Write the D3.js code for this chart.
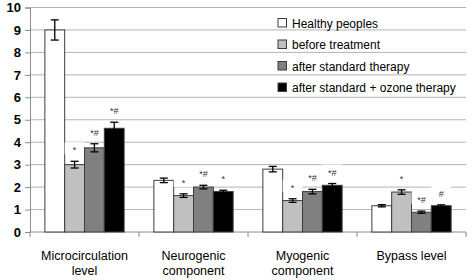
<!DOCTYPE html>
<html>
<head>
<meta charset="utf-8">
<script src="https://cdn.jsdelivr.net/npm/d3@7"></script>
<style>
  body { margin: 0; background: #fff; }
  text { font-family: "Liberation Sans", Arial, sans-serif; }
</style>
</head>
<body>
<svg id="chart"></svg>
<script>
// data
const categories = [["Microcirculation", "level"], ["Neurogenic", "component"], ["Myogenic", "component"], ["Bypass level"]];
const seriesNames = ["Healthy peoples", "before treatment", "after standard therapy", "after standard + ozone therapy"];
const seriesColors = ["#ffffff", "#c0c0c0", "#808080", "#000000"];
const healthy = [9.0, 2.3, 2.8, 1.17];
const before = [3.0, 1.62, 1.4, 1.78];
const standard = [3.75, 2.0, 1.8, 0.88];
const ozone = [4.62, 1.8, 2.08, 1.17];
const healthyErr = [0.45, 0.1, 0.12, 0.05];
const beforeErr = [0.15, 0.08, 0.08, 0.1];
const standardErr = [0.18, 0.08, 0.1, 0.05];
const ozoneErr = [0.27, 0.06, 0.08, 0.04];
const healthyMark = ["", "", "", ""];
const beforeMark = ["*", "*", "*", "*"];
const standardMark = ["*#", "*#", "*#", "*#"];
const ozoneMark = ["*#", "*", "*#", "#"];
const yTicks = [0, 1, 2, 3, 4, 5, 6, 7, 8, 9, 10];

const values = [healthy, before, standard, ozone];
const errors = [healthyErr, beforeErr, standardErr, ozoneErr];
const marks = [healthyMark, beforeMark, standardMark, ozoneMark];

const width = 472, height = 280;
const margin = { top: 7.5, right: 6, bottom: 48, left: 30 };

const svg = d3.select("#chart").attr("width", width).attr("height", height);

const x0 = d3.scaleBand()
  .domain(d3.range(categories.length))
  .range([margin.left, width - margin.right])
  .paddingInner(0).paddingOuter(0);
const x1 = d3.scaleBand()
  .domain(d3.range(seriesNames.length))
  .range([0, x0.bandwidth()])
  .paddingOuter(0.75).paddingInner(0);
const y = d3.scaleLinear().domain([0, 10]).range([height - margin.bottom, margin.top]);

// gridlines
svg.append("g").selectAll("line").data(yTicks.slice(1)).join("line")
  .attr("x1", margin.left).attr("x2", width - margin.right)
  .attr("y1", d => y(d)).attr("y2", d => y(d))
  .attr("stroke", "#b4b4b4").attr("stroke-width", 1);

// y axis
const yAxis = svg.append("g").attr("transform", `translate(${margin.left},0)`)
  .call(d3.axisLeft(y).tickValues(yTicks).tickSize(5).tickPadding(4));
yAxis.select(".domain").attr("stroke", "#8c8c8c");
yAxis.selectAll(".tick line").attr("stroke", "#8c8c8c");
yAxis.selectAll(".tick text").attr("font-size", 13).attr("font-weight", "bold").attr("fill", "#000");

// x axis with ticks at category boundaries
const bounds = d3.range(categories.length + 1).map(i => margin.left + i * x0.step());
svg.append("line").attr("x1", margin.left).attr("x2", width - margin.right)
  .attr("y1", y(0)).attr("y2", y(0)).attr("stroke", "#8c8c8c");
svg.append("g").selectAll("line").data(bounds).join("line")
  .attr("x1", d => d).attr("x2", d => d)
  .attr("y1", y(0)).attr("y2", y(0) + 5).attr("stroke", "#8c8c8c");

// category labels
const catLabels = svg.append("g").selectAll("text").data(categories).join("text")
  .attr("text-anchor", "middle")
  .attr("font-size", 12.5)
  .attr("x", (d, i) => x0(i) + x0.bandwidth() / 2)
  .attr("y", 260);
catLabels.selectAll("tspan").data(d => d).join("tspan")
  .attr("x", function () { return this.parentNode.getAttribute("x"); })
  .attr("dy", (d, i) => i === 0 ? 0 : 14.5)
  .text(d => d);

// bars
const groups = svg.append("g").selectAll("g").data(categories).join("g")
  .attr("transform", (d, i) => `translate(${x0(i)},0)`);

const cells = groups.selectAll("g").data((d, ci) => values.map((s, si) => ({
  si, v: s[ci], e: errors[si][ci], m: marks[si][ci]
}))).join("g");

// label boxes (cover gridlines behind significance marks)
cells.filter(d => d.m !== "").append("rect")
  .attr("x", d => x1(d.si))
  .attr("y", d => y(d.v + d.e) - 19)
  .attr("width", x1.bandwidth())
  .attr("height", 12)
  .attr("fill", "#fff");

cells.append("rect")
  .attr("x", d => x1(d.si))
  .attr("y", d => y(d.v))
  .attr("width", x1.bandwidth())
  .attr("height", d => y(0) - y(d.v))
  .attr("fill", d => seriesColors[d.si])
  .attr("stroke", "#3c3c3c")
  .attr("stroke-width", 1);

// error bars
const cap = 4;
cells.append("line")
  .attr("x1", d => x1(d.si) + x1.bandwidth() / 2).attr("x2", d => x1(d.si) + x1.bandwidth() / 2)
  .attr("y1", d => y(d.v - d.e)).attr("y2", d => y(d.v + d.e))
  .attr("stroke", "#000").attr("stroke-width", 1.3);
cells.selectAll("line.cap").data(d => [[d, d.v - d.e], [d, d.v + d.e]]).join("line")
  .attr("class", "cap")
  .attr("x1", d => x1(d[0].si) + x1.bandwidth() / 2 - cap).attr("x2", d => x1(d[0].si) + x1.bandwidth() / 2 + cap)
  .attr("y1", d => y(d[1])).attr("y2", d => y(d[1]))
  .attr("stroke", "#000").attr("stroke-width", 1.3);

// significance marks
cells.filter(d => d.m !== "").append("text")
  .attr("text-anchor", "middle")
  .attr("font-size", 9)
  .attr("fill", "#333")
  .attr("x", d => x1(d.si) + x1.bandwidth() / 2)
  .attr("y", d => y(d.v + d.e) - 8)
  .text(d => d.m);

// legend
const legend = svg.append("g").selectAll("g").data(seriesNames).join("g")
  .attr("transform", (d, i) => `translate(278, ${18.5 + i * 21.5})`);
legend.append("rect")
  .attr("width", 8.5).attr("height", 8.5)
  .attr("fill", (d, i) => seriesColors[i])
  .attr("stroke", "#3c3c3c");
legend.append("text")
  .attr("x", 14).attr("y", 9)
  .attr("font-size", 12)
  .text(d => d);
</script>
</body>
</html>
